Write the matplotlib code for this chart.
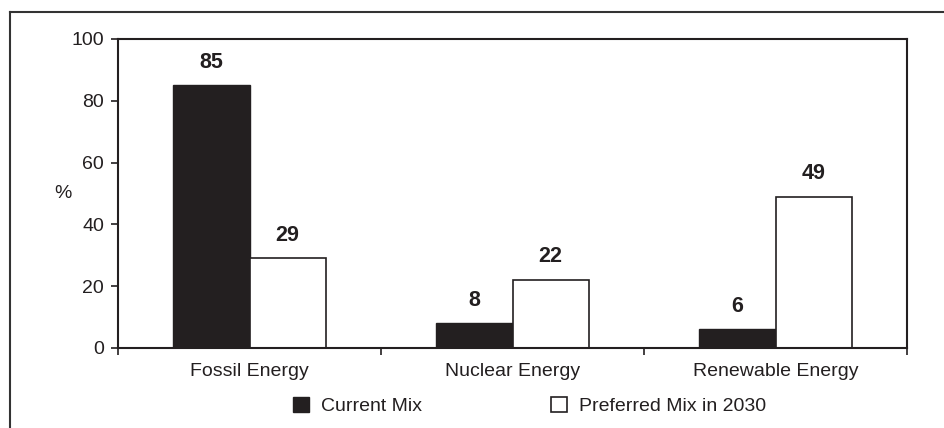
import numpy as np
import matplotlib.pyplot as plt
from matplotlib.lines import Line2D

plt.rcParams['font.family'] = ['Liberation Sans', 'DejaVu Sans']

categories = ["Fossil Energy", "Nuclear Energy", "Renewable Energy"]
current_mix = [85, 8, 6]
preferred_mix = [29, 22, 49]
series_names = ["Current Mix", "Preferred Mix in 2030"]

fig = plt.figure(figsize=(9.44, 4.28), dpi=100)
ax = fig.add_axes([0.125, 0.187, 0.836, 0.722])

x = np.arange(len(categories))
w = 0.29
dark = '#231f20'
b1 = ax.bar(x - w / 2, current_mix, w, color=dark, edgecolor=dark, linewidth=1,
            label=series_names[0])
b2 = ax.bar(x + w / 2, preferred_mix, w, color='white', edgecolor=dark, linewidth=1.2,
            label=series_names[1])

# value labels above bars
for bars, vals in ((b1, current_mix), (b2, preferred_mix)):
    for b, v in zip(bars, vals):
        ax.annotate(str(v), (b.get_x() + b.get_width() / 2, v), xytext=(0, 9),
                    textcoords='offset points', ha='center', va='bottom',
                    fontsize=15.5, fontweight='bold', color=dark)

ax.set_xlim(-0.5, 2.5)
ax.set_ylim(0, 100)
ax.set_yticks(range(0, 101, 20))
ax.set_xticks([-0.5, 0.5, 1.5, 2.5])
ax.set_xticklabels([])
ax.set_xticks(x, minor=True)
ax.set_xticklabels(categories, minor=True)
ax.tick_params(axis='x', which='minor', length=0, pad=11, labelsize=14, labelcolor=dark)
ax.tick_params(axis='x', which='major', length=5, width=1.2, color=dark)
ax.tick_params(axis='y', length=5, width=1.2, color=dark, labelsize=14, labelcolor=dark, pad=5)
for s in ax.spines.values():
    s.set_linewidth(1.5)
    s.set_color(dark)

ax.set_ylabel('%', rotation=0, fontsize=14, color=dark, va='center', ha='center')
ax.yaxis.set_label_coords(-0.0697, 0.5)

fig.legend(handles=[b1, b2], loc='center', bbox_to_anchor=(0.561, 0.051), ncol=2,
           frameon=False, fontsize=14, handlelength=0.82, handleheight=0.82,
           columnspacing=6.6, handletextpad=0.62, labelcolor=dark)

# outer frame (left and top edges)
fig.add_artist(Line2D([0.011, 0.011], [0, 0.972], transform=fig.transFigure,
                      color='#333333', linewidth=1.5))
fig.add_artist(Line2D([0.011, 1.0], [0.972, 0.972], transform=fig.transFigure,
                      color='#333333', linewidth=1.5))

fig.savefig('out.png', dpi=100)
